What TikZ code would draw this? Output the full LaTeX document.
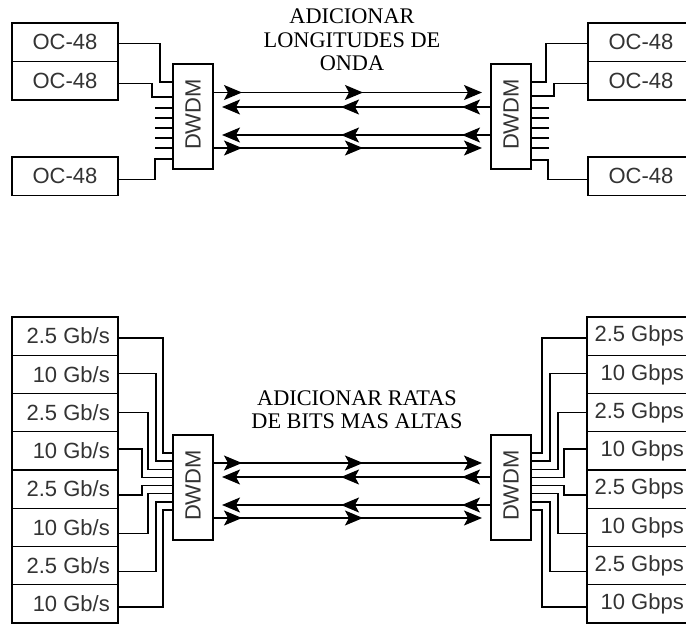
\documentclass[tikz,border=0pt]{standalone}
\usepackage{fontspec}
\setmainfont{Liberation Serif}
\setsansfont{Liberation Sans}
\usetikzlibrary{arrows.meta,calc,decorations.markings}
\tikzset{hd/.tip={Stealth[length=18pt,width=15pt,inset=4pt]}}
\begin{document}
\begin{tikzpicture}[x=1pt,y=-1pt,
  box/.style={draw, line width=1.4pt, minimum width=106pt, minimum height=38.4pt, inner sep=0pt, outer sep=0pt},
  dwdm/.style={draw, line width=1.4pt, minimum width=40pt, minimum height=105pt, inner sep=0pt, outer sep=0pt},
  wire/.style={line width=1.4pt},
  lbl/.style={font=\sffamily\fontsize{22}{22}\selectfont, text=black!80, inner sep=0pt},
  ttl/.style={font=\fontsize{22.3}{23.5}\selectfont, align=center, inner sep=0pt},
  fib/.style={wire, -hd, postaction={decorate}, decoration={markings,
     mark=at position 29pt with {\arrow{hd}}, mark=at position 150pt with {\arrow{hd}}}}
]
\clip (0,0) rectangle (686,624);
\fill[white] (0,0) rectangle (686,624);

% ---------- top section ----------
\node[ttl] (t1) at (352,40) {ADICIONAR\\LONGITUDES DE\\ONDA};

\node[box, minimum height=38.5pt] (lb1) at (65,42.25) {};
\node[box, minimum height=38.5pt] (lb2) at (65,80.75) {};
\node[box, minimum height=38.5pt] (lb3) at (65,176.25) {};
\node[lbl] at (lb1) {OC-48};
\node[lbl] at (lb2) {OC-48};
\node[lbl] at (lb3) {OC-48};

\node[box, minimum height=38.5pt] (rb1) at (641,42.25) {};
\node[box, minimum height=38.5pt] (rb2) at (641,80.75) {};
\node[box, minimum height=38.5pt] (rb3) at (641,176.25) {};
\node[lbl] at (rb1) {OC-48};
\node[lbl] at (rb2) {OC-48};
\node[lbl] at (rb3) {OC-48};

\node[dwdm] (dl1) at (193,116.5) {};
\node[dwdm] (dr1) at (511,116.5) {};
\node[lbl, rotate=90] at ($(dl1)+(0,-2)$) {DWDM};
\node[lbl, rotate=90] at ($(dr1)+(0,-2)$) {DWDM};

\draw[wire] ($(lb1.east)+(0,1)$) -| ($(dl1.north west)+(-13,18)$) -- ($(dl1.north west)+(0,18)$);
\draw[wire] ($(lb2.east)+(0,3)$) -| ($(dl1.north west)+(-21,33)$) -- ($(dl1.north west)+(0,33)$);
\draw[wire] ($(lb3.east)+(0,3)$) -| ($(dl1.north west)+(-18,95)$) -- ($(dl1.north west)+(0,95)$);
\foreach \r in {44,54,64,74,84}
  \draw[wire] ($(dl1.north west)+(-18,\r)$) -- ($(dl1.north west)+(0,\r)$);

\draw[wire] ($(rb1.west)+(0,1)$) -| ($(dr1.north east)+(15,18)$) -- ($(dr1.north east)+(0,18)$);
\draw[wire] ($(rb2.west)+(0,3)$) -| ($(dr1.north east)+(23,32)$) -- ($(dr1.north east)+(0,32)$);
\draw[wire] ($(rb3.west)+(0,3)$) -| ($(dr1.north east)+(17,96)$) -- ($(dr1.north east)+(0,96)$);
\foreach \r in {44,54,64,74,84}
  \draw[wire] ($(dr1.north east)+(18,\r)$) -- ($(dr1.north east)+(0,\r)$);

\draw[fib] ($(dl1.north east)+(0,28.5)$) -- ($(dr1.north west)+(-9,28.5)$);
\draw[fib] ($(dr1.north west)+(0,43)$) -- ($(dl1.north east)+(9,43)$);
\draw[fib] ($(dr1.north west)+(0,71)$) -- ($(dl1.north east)+(9,71)$);
\draw[fib] ($(dl1.north east)+(0,84)$) -- ($(dr1.north west)+(-9,84)$);

% ---------- bottom section ----------
\node[ttl] (t2) at (357,409.5) {ADICIONAR RATAS\\DE BITS MAS ALTAS};

\foreach \k/\t/\u in {0/2.5 Gb\slash s/2.5 Gbps,1/10 Gb\slash s/10 Gbps,2/2.5 Gb\slash s/2.5 Gbps,3/10 Gb\slash s/10 Gbps,
                      4/2.5 Gb\slash s/2.5 Gbps,5/10 Gb\slash s/10 Gbps,6/2.5 Gb\slash s/2.5 Gbps,7/10 Gb\slash s/10 Gbps} {
  \node[box, minimum height=38.25pt] (lB\k) at (65,{336.1+38.25*\k}) {};
  \node[box, minimum height=38.25pt] (rB\k) at (640,{336.1+38.25*\k}) {};
  \node[lbl, anchor=east] at ($(lB\k.east)+(-8,0)$) {\t};
  \node[lbl, anchor=east] at ($(rB\k.west)+(97,0)$) {\u};
}

\node[dwdm] (dl2) at (193,487.5) {};
\node[dwdm] (dr2) at (511,487.5) {};
\node[lbl, rotate=90] at ($(dl2)+(0,-2)$) {DWDM};
\node[lbl, rotate=90] at ($(dr2)+(0,-2)$) {DWDM};

\foreach \k/\o/\p/\d in {0/10/11/2,1/17/19/-1,2/25/27/0,3/31/33/-2,4/31/33/6,5/25/27/6,6/17/19/6,7/10/11/3} {
  \draw[wire] ($(lB\k.east)+(0,\d)$) -| ($(dl2.north west)+(-\o,{18+8.14*\k})$) -- ($(dl2.north west)+(0,{18+8.14*\k})$);
  \draw[wire] ($(rB\k.west)+(0,\d)$) -| ($(dr2.north east)+(\p,{18+8.14*\k})$) -- ($(dr2.north east)+(0,{18+8.14*\k})$);
}

\draw[fib] ($(dl2.north east)+(0,28)$) -- ($(dr2.north west)+(-9,28)$);
\draw[fib] ($(dr2.north west)+(0,42)$) -- ($(dl2.north east)+(9,42)$);
\draw[fib] ($(dr2.north west)+(0,70)$) -- ($(dl2.north east)+(9,70)$);
\draw[fib] ($(dl2.north east)+(0,83)$) -- ($(dr2.north west)+(-9,83)$);
\end{tikzpicture}
\end{document}
